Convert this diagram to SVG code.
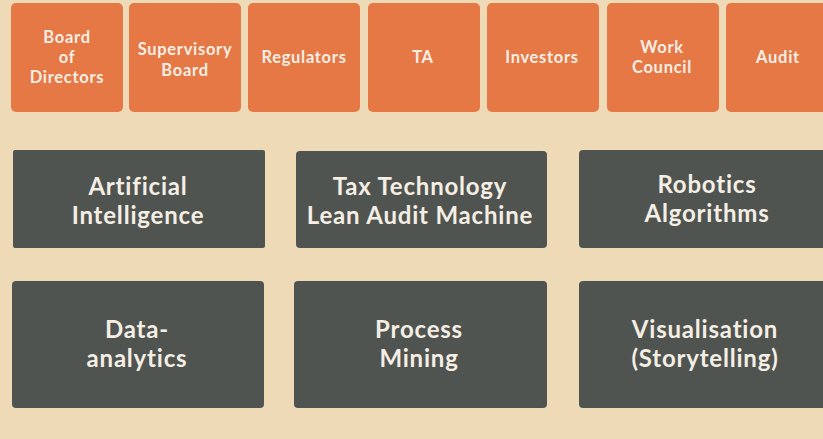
<svg xmlns="http://www.w3.org/2000/svg" width="823" height="439" viewBox="0 0 823 439">
<style>
.bg{fill:#EEDAB6}
.top{fill:#E57845}
.dark{fill:#4F5450}
.t{font-family:Lato,"Open Sans",sans-serif;font-weight:700;fill:#F5EEE4;text-anchor:middle}
.s{font-size:16.5px;letter-spacing:0.7px}
.l{font-size:24px;letter-spacing:0.8px}
</style>
<rect class="bg" x="0" y="0" width="823" height="439"/>
<g id="board-of-directors"><rect class="top" x="11" y="3" width="112" height="109" rx="5"/><text class="t s" x="67" y="43">Board<tspan x="67" dy="20">of</tspan><tspan x="67" dy="20">Directors</tspan></text></g>
<g id="supervisory-board"><rect class="top" x="129" y="3" width="112" height="109" rx="5"/><text class="t s" x="185" y="55">Supervisory<tspan x="185" dy="21">Board</tspan></text></g>
<g id="regulators"><rect class="top" x="248" y="3" width="112" height="109" rx="5"/><text class="t s" x="304" y="63">Regulators</text></g>
<g id="ta"><rect class="top" x="368" y="3" width="112" height="109" rx="5"/><text class="t s" x="423" y="63">TA</text></g>
<g id="investors"><rect class="top" x="487" y="3" width="112" height="109" rx="5"/><text class="t s" x="542" y="63">Investors</text></g>
<g id="work-council"><rect class="top" x="607" y="3" width="112" height="109" rx="5"/><text class="t s" x="662" y="53">Work<tspan x="662" dy="20">Council</tspan></text></g>
<g id="audit"><rect class="top" x="726" y="3" width="112" height="109" rx="5"/><text class="t s" x="778" y="63">Audit</text></g>
<g id="artificial-intelligence"><rect class="dark" x="13" y="150" width="252" height="98" rx="2"/><text class="t l" x="138" y="194.5">Artificial<tspan x="138" dy="29">Intelligence</tspan></text></g>
<g id="tax-technology"><rect class="dark" x="296" y="151" width="251" height="97" rx="4"/><text class="t l" x="420" y="194.5">Tax Technology<tspan x="420" dy="29">Lean Audit Machine</tspan></text></g>
<g id="robotics"><rect class="dark" x="579" y="150" width="260" height="98" rx="4"/><text class="t l" x="707" y="193">Robotics<tspan x="707" dy="29">Algorithms</tspan></text></g>
<g id="data-analytics"><rect class="dark" x="12" y="281" width="252" height="127" rx="4"/><text class="t l" x="137" y="338">Data-<tspan x="137" dy="29">analytics</tspan></text></g>
<g id="process-mining"><rect class="dark" x="294" y="281" width="253" height="127" rx="4"/><text class="t l" x="419" y="338">Process<tspan x="419" dy="29">Mining</tspan></text></g>
<g id="visualisation"><rect class="dark" x="579" y="281" width="260" height="127" rx="4"/><text class="t l" x="705" y="338">Visualisation<tspan x="705" dy="29">(Storytelling)</tspan></text></g>
<g id="connectors"/>
</svg>
